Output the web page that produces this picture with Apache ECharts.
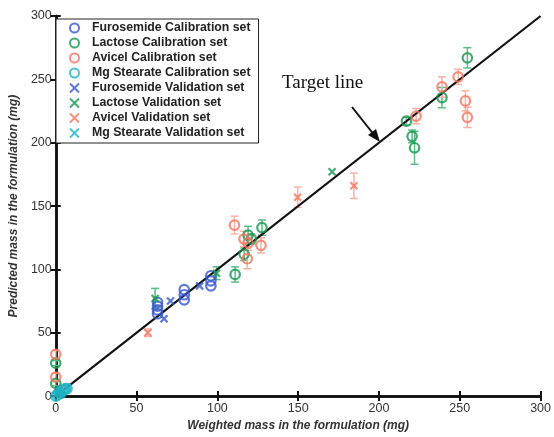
<!DOCTYPE html>
<html><head><meta charset="utf-8">
<script src="https://cdn.jsdelivr.net/npm/echarts@6/dist/echarts.min.js"></script>
<style>html,body{margin:0;padding:0;background:#fff}#c{width:554px;height:437px}</style>
</head><body><div id="c"></div>
<script>
// [x, y, yErr]
const furoCal = [[63,74,0],[63,71,0],[63,68,0],[63,65,0],[79.5,84,0],[79.5,80,0],[79.5,76,0],[96,95,0],[96,91,0],[96,87,0]];
const lactCal = [[0,26,2],[0,10,2],[111,96,6],[116.6,112,5],[119,127,7],[121,124,4],[127.6,133,6],[217,217,3],[220.5,205,5],[222,196,13],[239,235.6,8],[254.7,267,8]];
const aviCal = [[0,33,3],[0,15,3],[110.6,135,7],[116.5,124,6],[119,121,6],[127,119,6],[118.5,108.5,8],[223,221,6],[239,244,8],[249,252,6],[253.5,233,8],[254.7,220,8]];
const mgCal = [[0,0,0],[1,1,0],[2,3,0],[3,2,0],[4,4,0],[5,5,0],[6,6,0],[7,6,0]];
const furoVal = [[71,75,0],[67,61,0],[89,87,0]];
const lactVal = [[61.5,77,8],[99.5,97,5],[171,177,0]];
const aviVal = [[57,50,3],[149.7,157,8],[184.5,166,10]];
const mgVal = [[1,2,0],[3,3,0],[5,4,0],[7,7,0]];
const targetLine = [[0,0],[300,300]];
const xTicks = [0,50,100,150,200,250,300];
const yTicks = [0,50,100,150,200,250,300];

const names = ['Furosemide Calibration set','Lactose Calibration set','Avicel Calibration set','Mg Stearate Calibration set',
  'Furosemide Validation set','Lactose Validation set','Avicel Validation set','Mg Stearate Validation set'];
const BLUE='#3656c8', GREEN='#159650', RED='#f27460', CYAN='#1fb2c4';
const ERRC = {[BLUE]:'#8fa0dd',[GREEN]:'#5dbb86',[RED]:'#f7b3a8',[CYAN]:'#7fd3dc'};
const XPATH = 'path://M0,0L10,10M10,0L0,10';

function circleSeries(name, data, color){
  return {name, type:'scatter', data:data.map(d=>[d[0],d[1]]), symbol:'circle', symbolSize:9.5, z:5,
    itemStyle:{color:'rgba(0,0,0,0)', borderColor:color, borderWidth:2.2}};
}
function xSeries(name, data, color){
  return {name, type:'scatter', data:data.map(d=>[d[0],d[1]]), symbol:XPATH, symbolSize:7, z:5,
    itemStyle:{color:'rgba(0,0,0,0)', borderColor:color, borderWidth:2.2}};
}
function errSeries(data, color){
  return {type:'custom', z:3, silent:true, data:data.filter(d=>d[2]>0),
    renderItem:function(params, api){
      const x=api.value(0), y=api.value(1), e=api.value(2);
      const top=api.coord([x,y+e]), bot=api.coord([x,y-e]);
      const st={stroke:ERRC[color], lineWidth:1.5};
      return {type:'group', children:[
        {type:'line', shape:{x1:top[0],y1:top[1],x2:bot[0],y2:bot[1]}, style:st},
        {type:'line', shape:{x1:top[0]-4,y1:top[1],x2:top[0]+4,y2:top[1]}, style:st},
        {type:'line', shape:{x1:bot[0]-4,y1:bot[1],x2:bot[0]+4,y2:bot[1]}, style:st}
      ]};
    }};
}

const chart = echarts.init(document.getElementById('c'), null, {renderer:'canvas'});
const axisCommon = {type:'value', min:0, max:300, interval:50,
  axisLine:{show:true, lineStyle:{color:'#111', width:2.5}},
  axisTick:{show:true, inside:true, length:5, lineStyle:{color:'#111', width:2}},
  splitLine:{show:false}};
const labelStyle = {color:'#333', fontSize:12.5, fontFamily:'Liberation Sans, Arial, sans-serif'};
const nameStyle = {color:'#333', fontSize:12, fontWeight:'bold', fontStyle:'italic', fontFamily:'Liberation Sans, Arial, sans-serif'};

chart.setOption({
  animation:false,
  backgroundColor:'#fff',
  grid:{left:52, right:11, top:16, bottom:34},
  xAxis:[
    Object.assign({}, axisCommon, {position:'bottom', axisLabel:Object.assign({margin:6}, labelStyle),
      name:'Weighted mass in the formulation (mg)', nameLocation:'middle', nameGap:21, nameTextStyle:nameStyle}),
    Object.assign({}, axisCommon, {position:'top', axisLabel:{show:false}})
  ],
  yAxis:[
    Object.assign({}, axisCommon, {position:'left', axisLabel:Object.assign({margin:4}, labelStyle),
      name:'Predicted mass in the formulation (mg)', nameLocation:'middle', nameGap:30, nameTextStyle:nameStyle}),
    Object.assign({}, axisCommon, {position:'right', axisLabel:{show:false}})
  ],
  legend:{orient:'vertical', left:56, top:19, data:names, itemWidth:9, itemHeight:9, itemGap:1,
    padding:[2,8,3,13], backgroundColor:'#fff', borderColor:'#222', borderWidth:1,
    textStyle:{color:'#222', fontSize:12.3, fontWeight:'bold', fontFamily:'Liberation Sans, Arial, sans-serif', lineHeight:14, padding:[0,0,0,8]}},
  graphic:[
    {type:'text', left:282, top:74, style:{text:'Target line', fill:'#111', font:'19px "Liberation Serif", "Times New Roman", serif'}},
    {type:'line', shape:{x1:352, y1:107, x2:375, y2:136}, style:{stroke:'#111', lineWidth:2}},
    {type:'polygon', shape:{points:[[380,142],[368,135],[376,129]]}, style:{fill:'#111'}}
  ],
  series:[
    errSeries(lactCal, GREEN), errSeries(aviCal, RED), errSeries(lactVal, GREEN), errSeries(aviVal, RED),
    {type:'line', data:targetLine, symbol:'none', z:4, lineStyle:{color:'#111', width:2.2}, silent:true},
    circleSeries(names[0], furoCal, BLUE),
    circleSeries(names[1], lactCal, GREEN),
    circleSeries(names[2], aviCal, RED),
    circleSeries(names[3], mgCal, CYAN),
    xSeries(names[4], furoVal, BLUE),
    xSeries(names[5], lactVal, GREEN),
    xSeries(names[6], aviVal, RED),
    xSeries(names[7], mgVal, CYAN)
  ]
});
</script></body></html>
